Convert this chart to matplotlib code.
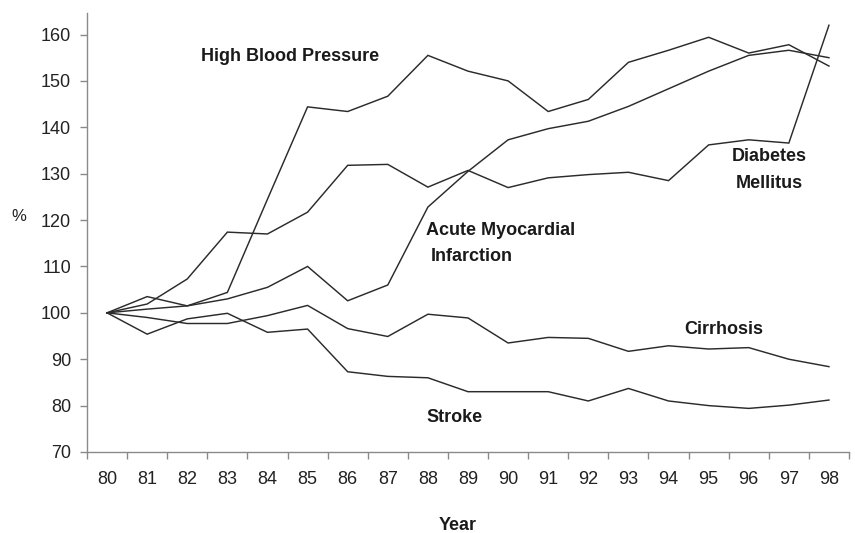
import matplotlib
matplotlib.use("Agg")
import matplotlib.pyplot as plt
from matplotlib.ticker import FixedLocator

plt.rcParams['font.family'] = ['Liberation Sans', 'DejaVu Sans']

years = list(range(80, 99))
high_blood_pressure = [100, 100.8, 101.5, 104.4, 124.5, 144.4, 143.4, 146.7, 155.5, 152.1,
                       150.0, 143.4, 146.0, 154.0, 156.6, 159.4, 156.0, 157.8, 153.2]
acute_myocardial = [100, 103.5, 101.5, 103.0, 105.5, 110.0, 102.6, 106.0, 122.8, 130.5,
                    137.3, 139.7, 141.3, 144.5, 148.3, 152.1, 155.5, 156.6, 155.0]
diabetes = [100, 101.9, 107.3, 117.4, 117.0, 121.7, 131.8, 132.0, 127.1, 130.7,
            127.0, 129.1, 129.8, 130.3, 128.5, 136.2, 137.3, 136.6, 162.0]
cirrhosis = [100, 99.0, 97.7, 97.7, 99.4, 101.6, 96.6, 94.9, 99.7, 98.9,
             93.5, 94.7, 94.5, 91.7, 92.9, 92.2, 92.5, 90.0, 88.4]
stroke = [100, 95.4, 98.7, 99.9, 95.8, 96.5, 87.3, 86.3, 86.0, 83.0,
          83.0, 83.0, 81.0, 83.7, 81.0, 80.0, 79.4, 80.1, 81.2]
y_ticks = list(range(70, 161, 10))

fig = plt.figure(figsize=(8.55, 5.33), dpi=100)
ax = fig.add_axes([87/855, 1-452/533, (849-87)/855, (452-12.7)/533])

line_color = '#2b2b2b'
for series in [high_blood_pressure, acute_myocardial, diabetes, cirrhosis, stroke]:
    ax.plot(years, series, color=line_color, linewidth=1.05, solid_joinstyle='miter')

ax.set_xlim(years[0] - 0.5, years[-1] + 0.5)
ax.set_ylim(70, 164.7)
ax.set_yticks(y_ticks)
ax.set_xticks(years)
ax.set_xticklabels([str(y) for y in years])
ax.xaxis.set_minor_locator(FixedLocator([y - 0.5 for y in years] + [years[-1] + 0.5]))

axis_color = '#8a8a8a'
for s in ['top', 'right']:
    ax.spines[s].set_visible(False)
for s in ['left', 'bottom']:
    ax.spines[s].set_color(axis_color)
    ax.spines[s].set_linewidth(1.0)

ax.tick_params(axis='y', which='major', length=5, width=1.0, color=axis_color,
               labelsize=13, labelcolor='#222222', pad=6.5, direction='out')
ax.tick_params(axis='x', which='major', length=0, labelsize=13, labelcolor='#222222', pad=14)
ax.tick_params(axis='x', which='minor', length=5, width=1.0, color=axis_color, direction='out')

label_kw = dict(fontsize=13, fontweight='bold', color='#1a1a1a')
ax.text(82.34, 155.2, 'High Blood Pressure', ha='left', va='center', **label_kw)
ax.text(87.96, 117.7, 'Acute Myocardial', ha='left', va='center', **label_kw)
ax.text(88.08, 112.1, 'Infarction', ha='left', va='center', **label_kw)
ax.text(96.51, 133.7, 'Diabetes', ha='center', va='center', **label_kw)
ax.text(96.51, 127.8, 'Mellitus', ha='center', va='center', **label_kw)
ax.text(94.39, 96.35, 'Cirrhosis', ha='left', va='center', **label_kw)
ax.text(87.96, 77.35, 'Stroke', ha='left', va='center', **label_kw)

fig.text(19/855, 1-217/533, '%', ha='center', va='center', fontsize=12, color='#222222')
fig.text(458/855, 1-525/533, 'Year', ha='center', va='center', fontsize=13,
         fontweight='bold', color='#1a1a1a')

fig.savefig('out.png', dpi=100)
